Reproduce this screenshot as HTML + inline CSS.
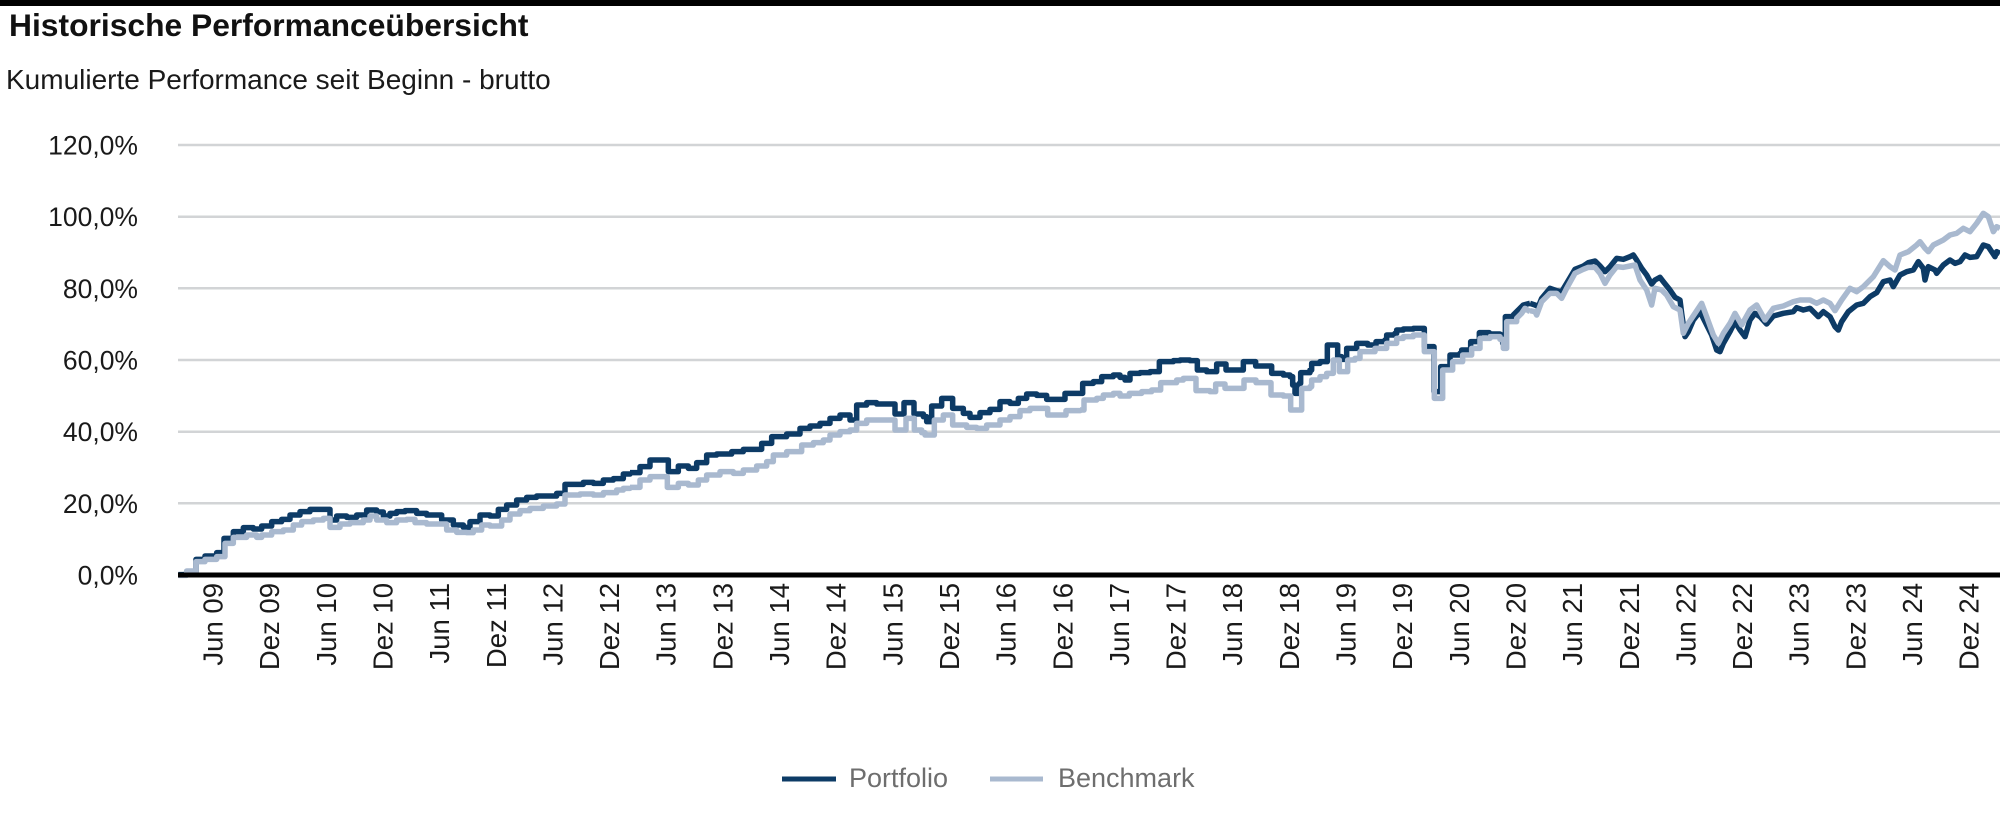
<!DOCTYPE html>
<html><head><meta charset="utf-8"><style>
html,body{margin:0;padding:0;background:#fff;}
svg{display:block;}
text{font-family:"Liberation Sans",Arial,sans-serif;}
</style></head><body>
<svg width="2000" height="822" viewBox="0 0 2000 822" xmlns="http://www.w3.org/2000/svg">
<rect x="0" y="0" width="2000" height="822" fill="#fff"/>
<rect x="0" y="0" width="2000" height="6" fill="#000"/>
<text x="9" y="36" font-size="31.8" font-weight="bold" fill="#111">Historische Performanceübersicht</text>
<text x="6" y="89" font-size="28" fill="#1a1a1a">Kumulierte Performance seit Beginn - brutto</text>

<g stroke="#d2d4d6" stroke-width="2.5">
<line x1="178" y1="145" x2="2000" y2="145"/>
<line x1="178" y1="216.7" x2="2000" y2="216.7"/>
<line x1="178" y1="288.3" x2="2000" y2="288.3"/>
<line x1="178" y1="360" x2="2000" y2="360"/>
<line x1="178" y1="431.7" x2="2000" y2="431.7"/>
<line x1="178" y1="503.3" x2="2000" y2="503.3"/>
</g>

<g font-size="26.5" fill="#1a1a1a" text-anchor="end">
<text x="138" y="154.5">120,0%</text>
<text x="138" y="226.2">100,0%</text>
<text x="138" y="297.8">80,0%</text>
<text x="138" y="369.5">60,0%</text>
<text x="138" y="441.2">40,0%</text>
<text x="138" y="512.8">20,0%</text>
<text x="138" y="584.5">0,0%</text>
</g>

<!-- Portfolio -->
<g fill="none" stroke="#0d3b66" stroke-width="5.5" stroke-linejoin="round">
<path vector-effect="non-scaling-stroke" transform="translate(170,300) scale(0.33333)" d="M25,824 H50 V815 H78 V778 H105 V768 H140 V758 H162 V715 H190 V695 H220 V683 H250 V687 H275 V678 H305 V665 H335 V658 H360 V645 H390 V635 H420 V628 H480 V660 H500 V648 H530 V652 H560 V645 H590 V630 H620 V636 H640 V648 H660 V640 H680 V635 H705 V632 H740 V640 H770 V645 H815 V660 H850 V675 H880 V682 H900 V665 H930 V645 H960 V648 H985 V628 H1010 V615 H1040 V600 H1070 V592 H1100 V588 H1160 V580 H1185 V553 H1240 V547 H1270 V550 H1300 V540 H1330 V536 H1360 V522 H1380 V516"/>
<path vector-effect="non-scaling-stroke" transform="translate(620,250) scale(0.33333)" d="M30,668 H60 V650 H90 V630 H145 V665 H175 V648 H205 V655 H230 V638 H260 V615 H290 V612 H335 V605 H370 V598 H425 V580 H455 V560 H500 V552 H540 V535 H570 V528 H600 V520 H630 V505 H660 V495 H690 V510 H710 V465 H740 V458 H770 V462 H825 V492 H852 V458 H882 V492 H910 V500 H920 V515 H935 V468 H965 V445 H998 V475 H1030 V490 H1050 V502 H1080 V488 H1110 V478 H1140 V455 H1170 V460 H1195 V445 H1220 V432 H1250 V436 H1280 V448 H1335 V430 H1380"/>
<path vector-effect="non-scaling-stroke" transform="translate(1070,180) scale(0.33333)" d="M30,640 H38 V610 H70 V605 H95 V590 H130 V585 H150 V592 H165 V600 H180 V580 H210 V578 H240 V575 H268 V545 H310 V542 H330 V540 H360 V542 H382 V570 H410 V575 H440 V552 H468 V570 H520 V545 H557 V558 H605 V580 H640 V585 H660 V590 H668 V615 H675 V640 H688 V610 H692 V578 H720 V570 H725 V550 H750 V545 H772 V495 H803 V530 H815 V538 H830 V505 H860 V490 H893 V495 H918 V485 H945 V480 H950 V465 H975 V460 H980 V450 H1000 V447 H1030 V445 H1063 V500 H1092 V635 H1112 V560 H1140 V525 H1170 V520 H1175 V510 H1202 V485 H1228 V458 H1258 V462 H1290 V465 H1298 V490 H1306 V410 H1330 V405 L1345,390 L1360,375 L1380,370"/>
<path vector-effect="non-scaling-stroke" transform="translate(1530,180) scale(0.33333)" d="M0,370 L15,375 L25,380 L35,355 L60,325 L80,332 L95,335 L110,310 L135,268 L160,258 L175,248 L195,243 L210,258 L225,275 L240,260 L260,235 L280,238 L300,230 L310,225 L320,240 L335,265 L350,285 L365,312 L375,300 L390,292 L400,305 L420,330 L435,352 L450,360 L455,400 L465,470 L475,455 L490,420 L510,395 L525,425 L545,465 L560,510 L570,515 L580,490 L600,455 L615,425 L630,450 L645,470 L660,420 L675,400 L690,410 L710,432 L730,408 L760,400 L790,395 L800,383 L820,390 L840,385 L855,400 L865,410 L880,395 L900,410 L915,440 L925,450 L935,425 L955,395 L980,375 L1000,370 L1020,350 L1040,338 L1060,305 L1080,300 L1090,320 L1110,285 L1130,275 L1150,270 L1165,245 L1180,265 L1185,300 L1195,260 L1215,270 L1220,280 L1240,255 L1260,240 L1275,250 L1290,245 L1305,225 L1320,232 L1340,230 L1360,195 L1375,200 L1385,215 L1395,230 L1400,215 L1410,220"/>
</g>

<!-- Benchmark -->
<g fill="none" stroke="#a9b9cf" stroke-width="5.5" stroke-linejoin="round">
<path vector-effect="non-scaling-stroke" transform="translate(170,300) scale(0.33333)" d="M25,826 H50 V813 H78 V785 H105 V778 H140 V770 H165 V730 H190 V712 H230 V705 H260 V712 H275 V705 H305 V695 H340 V690 H370 V675 H395 V665 H430 V660 H460 V655 H480 V682 H510 V672 H540 V668 H580 V660 H600 V648 H620 V660 H650 V668 H680 V660 H710 V658 H735 V668 H770 V672 H830 V690 H860 V697 H890 V698 H910 V690 H935 V675 H960 V678 H995 V660 H1020 V642 H1050 V632 H1080 V625 H1120 V618 H1160 V612 H1185 V585 H1230 V582 H1270 V585 H1300 V578 H1340 V570 H1360 V565 H1380 V560"/>
<path vector-effect="non-scaling-stroke" transform="translate(620,250) scale(0.33333)" d="M30,712 H60 V690 H90 V680 H142 V712 H175 V700 H205 V705 H235 V690 H260 V675 H300 V665 H340 V670 H370 V660 H410 V648 H440 V635 H460 V615 H500 V605 H545 V585 H580 V578 H610 V570 H630 V555 H660 V545 H690 V540 H710 V520 H740 V510 H825 V540 H858 V505 H883 V540 H905 V548 H915 V555 H943 V510 H970 V495 H998 V525 H1040 V532 H1070 V535 H1100 V525 H1140 V510 H1170 V500 H1200 V482 H1230 V475 H1283 V495 H1338 V482 H1380 V480"/>
<path vector-effect="non-scaling-stroke" transform="translate(1070,180) scale(0.33333)" d="M30,690 H42 V660 H80 V655 H100 V645 H130 V640 H150 V648 H178 V640 H215 V635 H245 V630 H272 V608 H320 V600 H340 V595 H378 V632 H420 V635 H437 V612 H465 V625 H522 V600 H558 V608 H603 V645 H640 V648 H662 V690 H695 V625 H720 V620 H725 V600 H750 V590 H770 V580 H790 V540 H808 V575 H833 V540 H855 V535 H870 V515 H915 V505 H950 V490 H980 V475 H1000 V470 H1030 V465 H1063 V515 H1093 V655 H1118 V570 H1148 V545 H1178 V525 H1205 V505 H1230 V475 H1260 V470 H1290 V478 H1300 V505 H1310 V425 H1340 V415 L1355,400 L1365,385 L1380,395"/>
<path vector-effect="non-scaling-stroke" transform="translate(1530,180) scale(0.33333)" d="M0,392 L15,395 L20,405 L35,365 L60,340 L80,340 L95,355 L110,325 L135,280 L160,268 L175,262 L195,262 L210,280 L225,310 L240,285 L260,260 L280,262 L300,258 L315,255 L330,300 L350,330 L365,375 L375,325 L395,330 L410,345 L430,380 L450,390 L460,460 L475,430 L495,400 L515,370 L530,410 L550,465 L565,490 L580,460 L600,430 L615,400 L635,435 L660,390 L680,375 L705,420 L730,385 L760,378 L790,365 L810,360 L840,360 L860,370 L880,360 L900,370 L915,392 L935,360 L960,325 L980,335 L1000,320 L1030,290 L1060,242 L1080,260 L1095,270 L1110,225 L1135,215 L1160,195 L1170,185 L1185,205 L1195,215 L1210,195 L1240,180 L1260,165 L1280,160 L1300,145 L1320,155 L1340,130 L1360,100 L1375,110 L1390,155 L1400,140 L1410,145"/>
</g>

<!-- x axis -->
<rect x="178" y="572.5" width="1822" height="5" fill="#000"/>

<g font-size="27.5" fill="#1a1a1a" text-anchor="end">
<text transform="translate(222.5,583) rotate(-90)">Jun 09</text>
<text transform="translate(279.2,583) rotate(-90)">Dez 09</text>
<text transform="translate(335.8,583) rotate(-90)">Jun 10</text>
<text transform="translate(392.5,583) rotate(-90)">Dez 10</text>
<text transform="translate(449.1,583) rotate(-90)">Jun 11</text>
<text transform="translate(505.8,583) rotate(-90)">Dez 11</text>
<text transform="translate(562.4,583) rotate(-90)">Jun 12</text>
<text transform="translate(619.1,583) rotate(-90)">Dez 12</text>
<text transform="translate(675.7,583) rotate(-90)">Jun 13</text>
<text transform="translate(732.4,583) rotate(-90)">Dez 13</text>
<text transform="translate(789.0,583) rotate(-90)">Jun 14</text>
<text transform="translate(845.7,583) rotate(-90)">Dez 14</text>
<text transform="translate(902.3,583) rotate(-90)">Jun 15</text>
<text transform="translate(959.0,583) rotate(-90)">Dez 15</text>
<text transform="translate(1015.6,583) rotate(-90)">Jun 16</text>
<text transform="translate(1072.3,583) rotate(-90)">Dez 16</text>
<text transform="translate(1128.9,583) rotate(-90)">Jun 17</text>
<text transform="translate(1185.6,583) rotate(-90)">Dez 17</text>
<text transform="translate(1242.2,583) rotate(-90)">Jun 18</text>
<text transform="translate(1298.9,583) rotate(-90)">Dez 18</text>
<text transform="translate(1355.5,583) rotate(-90)">Jun 19</text>
<text transform="translate(1412.2,583) rotate(-90)">Dez 19</text>
<text transform="translate(1468.8,583) rotate(-90)">Jun 20</text>
<text transform="translate(1525.5,583) rotate(-90)">Dez 20</text>
<text transform="translate(1582.1,583) rotate(-90)">Jun 21</text>
<text transform="translate(1638.8,583) rotate(-90)">Dez 21</text>
<text transform="translate(1695.4,583) rotate(-90)">Jun 22</text>
<text transform="translate(1752.1,583) rotate(-90)">Dez 22</text>
<text transform="translate(1808.7,583) rotate(-90)">Jun 23</text>
<text transform="translate(1865.4,583) rotate(-90)">Dez 23</text>
<text transform="translate(1922.0,583) rotate(-90)">Jun 24</text>
<text transform="translate(1978.7,583) rotate(-90)">Dez 24</text>
</g>

<!-- legend -->
<rect x="782" y="776.5" width="54" height="5" fill="#0d3b66"/>
<text x="849" y="787" font-size="27" fill="#6e6e6e">Portfolio</text>
<rect x="990" y="776.5" width="53" height="5" fill="#a9b9cf"/>
<text x="1058" y="787" font-size="27" fill="#6e6e6e">Benchmark</text>
</svg>
</body></html>
